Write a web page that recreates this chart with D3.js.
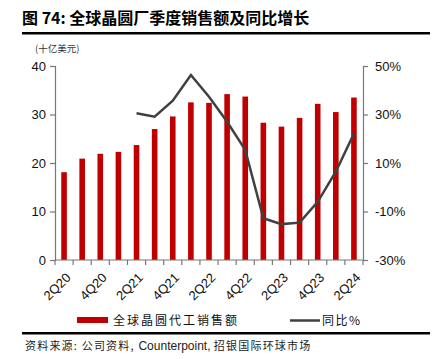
<!DOCTYPE html>
<html><head><meta charset="utf-8">
<script src="https://cdn.jsdelivr.net/npm/d3@7"></script>
<style>body{margin:0;background:#fff}svg{display:block}</style>
</head><body>
<script>
const quarters = ["2Q20","3Q20","4Q20","1Q21","2Q21","3Q21","4Q21","1Q22","2Q22","3Q22","4Q22","1Q23","2Q23","3Q23","4Q23","1Q24","2Q24"];
const sales = [18.1,20.9,21.9,22.3,23.7,27.0,29.6,32.5,32.4,34.2,33.7,28.3,27.5,29.3,32.2,30.5,33.5];
const yoy = [null,null,null,null,30.5,29.1,35.7,46.3,37.3,27.0,15.4,-12.8,-15.2,-14.6,-6.0,6.4,22.2];
const leftTicks = [0,10,20,30,40];
const rightTicks = [-30,-10,10,30,50];
const xLabels = ["2Q20","4Q20","2Q21","4Q21","2Q22","4Q22","2Q23","4Q23","2Q24"];

const W=433,H=359;
const svg=d3.select("body").append("svg").attr("width",W).attr("height",H);
const cjk='"Noto Sans CJK SC", sans-serif';
const lat='"Liberation Sans", Arial, sans-serif';

svg.append("text").attr("x",22).attr("y",24).attr("font-family",cjk).attr("font-weight","bold")
  .attr("font-size",16).attr("fill","#000").text("图 74: 全球晶圆厂季度销售额及同比增长");
svg.append("rect").attr("x",22).attr("y",32).attr("width",408).attr("height",2.5).attr("fill","#000");
svg.append("text").attr("x",35).attr("y",52).attr("font-family",cjk).attr("font-size",9.5).attr("fill","#333").text("(十亿美元)");

const x=d3.scaleBand().domain(quarters).range([55,363]);
const yL=d3.scaleLinear().domain([0,40]).range([260,66]);
const yR=d3.scaleLinear().domain([-30,50]).range([260,66]);

const axL=svg.append("g").attr("transform","translate(55,0)").call(d3.axisLeft(yL).tickValues(leftTicks).tickSize(5).tickPadding(4));
const axR=svg.append("g").attr("transform","translate(363,0)").call(d3.axisRight(yR).tickValues(rightTicks).tickFormat(d=>d+"%").tickSize(5).tickPadding(7));
[axL,axR].forEach(a=>{a.selectAll("path,line").attr("stroke","#777").attr("stroke-width",1.2);
  a.selectAll("text").attr("font-family",lat).attr("font-size",13).attr("fill","#111");});

// bars
svg.append("g").selectAll("rect").data(quarters).join("rect")
  .attr("x",d=>x(d)+x.bandwidth()/2-2.8).attr("width",5.6)
  .attr("y",(d,i)=>yL(sales[i])).attr("height",(d,i)=>yL(0)-yL(sales[i]))
  .attr("fill","#c00000");

// x axis
const xa=svg.append("g").attr("transform","translate(0,260)");
xa.append("line").attr("x1",55).attr("x2",363).attr("stroke","#777").attr("stroke-width",1.2);
const bounds=quarters.map(q=>x(q)).concat([x.range()[1]]);
xa.selectAll("line.t").data(bounds).join("line").attr("class","t")
  .attr("x1",d=>d).attr("x2",d=>d).attr("y1",0).attr("y2",5).attr("stroke","#777").attr("stroke-width",1.2);
xa.selectAll("text").data(xLabels).join("text")
  .attr("transform",d=>`translate(${x(d)+x.bandwidth()/2+1},${12}) rotate(-45)`)
  .attr("text-anchor","end").attr("dy","0.7em")
  .attr("font-family",lat).attr("font-size",13).attr("fill","#111").text(d=>d);

// line
const line=d3.line().defined(d=>d.v!=null).x(d=>x(d.q)+x.bandwidth()/2).y(d=>yR(d.v));
svg.append("path").datum(quarters.map((q,i)=>({q,v:yoy[i]})))
  .attr("d",line).attr("fill","none").attr("stroke","#404040").attr("stroke-width",2.5);

// legend
svg.append("rect").attr("x",77).attr("y",317).attr("width",31).attr("height",6).attr("fill","#c00000");
svg.append("text").attr("x",113).attr("y",325).attr("font-family",cjk).attr("font-size",12).attr("letter-spacing",2).attr("fill","#111").text("全球晶圆代工销售额");
svg.append("line").attr("x1",290).attr("x2",320).attr("y1",320.5).attr("y2",320.5).attr("stroke","#404040").attr("stroke-width",2.5);
svg.append("text").attr("x",322).attr("y",325).attr("font-family",cjk).attr("font-size",12).attr("letter-spacing",1.5).attr("fill","#111").text("同比%");

svg.append("rect").attr("x",22).attr("y",332).attr("width",408).attr("height",2.5).attr("fill","#000");
const src=svg.append("text").attr("x",25).attr("y",350).attr("font-size",11).attr("fill","#222");
src.append("tspan").attr("font-family",cjk).attr("letter-spacing",1.2).text("资料来源: 公司资料, ");
src.append("tspan").attr("font-family",lat).attr("font-size",12).text("Counterpoint, ");
src.append("tspan").attr("font-family",cjk).attr("letter-spacing",1.2).text("招银国际环球市场");
</script>
</body></html>
